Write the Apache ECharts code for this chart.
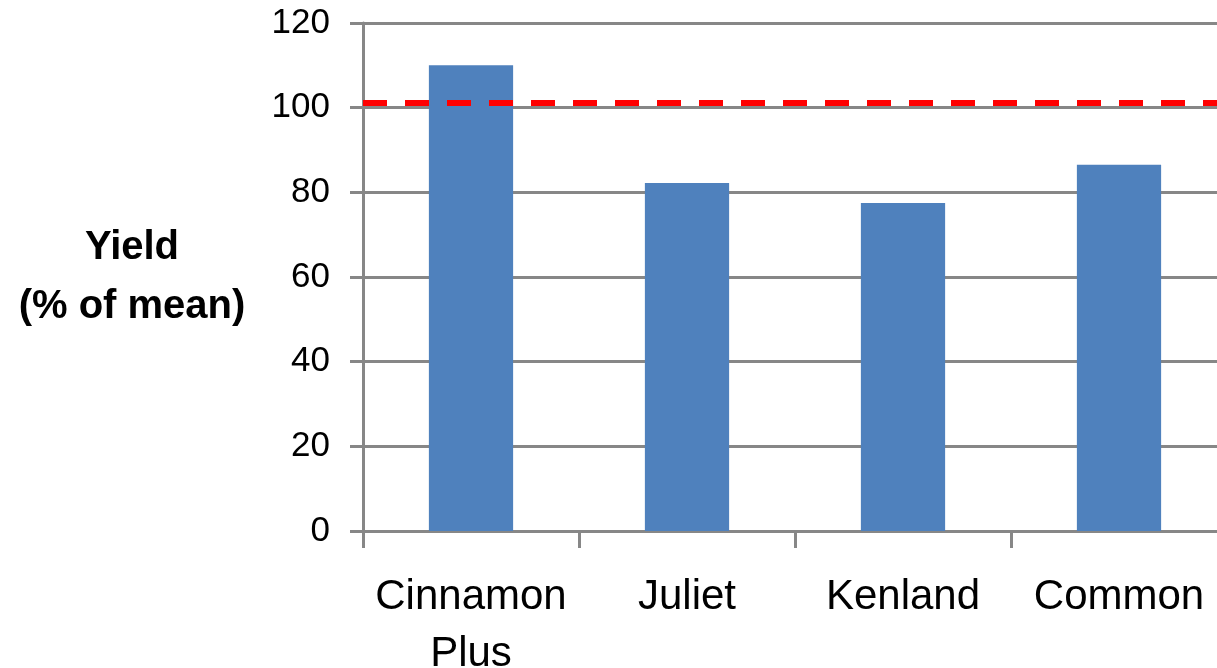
<!DOCTYPE html>
<html>
<head>
<meta charset="utf-8">
<script src="https://cdn.jsdelivr.net/npm/echarts@6/dist/echarts.min.js"></script>
<style>
  html, body { margin: 0; padding: 0; background: #ffffff; }
  #chart { width: 1217px; height: 668px; }
</style>
</head>
<body>
<div id="chart"></div>
<script>
// Yield of each variety, as a percentage of the trial mean
const varieties = ['Cinnamon\nPlus', 'Juliet', 'Kenland', 'Common'];
const yieldPct = [110, 82.2, 77.5, 86.5];
const referenceLevel = 101.2;   // dashed red reference line
const yTicks = { min: 0, max: 120, step: 20 };

const axisGrey = '#878787';
const chart = echarts.init(document.getElementById('chart'), null, { renderer: 'canvas' });

chart.setOption({
  animation: false,
  backgroundColor: '#ffffff',
  grid: {
    left: 363, top: 23, width: 864, height: 508,
    containLabel: false,
    outerBoundsMode: 'none'
  },
  xAxis: {
    type: 'category',
    data: varieties,
    boundaryGap: true,
    axisLine: { show: true, lineStyle: { color: axisGrey, width: 3 } },
    axisTick: { show: true, alignWithLabel: false, length: 17, lineStyle: { color: axisGrey, width: 3 } },
    axisLabel: {
      color: '#000000',
      fontFamily: 'Liberation Sans',
      fontSize: 42,
      lineHeight: 57,
      margin: 38,
      interval: 0
    }
  },
  yAxis: {
    type: 'value',
    min: yTicks.min,
    max: yTicks.max,
    interval: yTicks.step,
    name: 'Yield\n(% of mean)',
    nameLocation: 'middle',
    nameRotate: 0,
    nameGap: 231,
    nameTextStyle: {
      color: '#000000',
      fontFamily: 'Liberation Sans',
      fontWeight: 'bold',
      fontSize: 40,
      lineHeight: 59,
      align: 'center',
      verticalAlign: 'middle'
    },
    axisLine: { show: true, lineStyle: { color: axisGrey, width: 3 } },
    axisTick: { show: true, length: 13, lineStyle: { color: axisGrey, width: 3 } },
    splitLine: { show: true, lineStyle: { color: axisGrey, width: 3 } },
    axisLabel: {
      color: '#000000',
      fontFamily: 'Liberation Sans',
      fontSize: 35,
      margin: 33
    }
  },
  series: [{
    type: 'bar',
    data: yieldPct,
    barWidth: '39%',
    itemStyle: { color: '#4F81BD' },
    markLine: {
      silent: true,
      symbol: 'none',
      label: { show: false },
      lineStyle: { color: '#FF0000', width: 6, type: [24, 18] },
      data: [{ yAxis: referenceLevel }]
    }
  }]
});
</script>
</body>
</html>
